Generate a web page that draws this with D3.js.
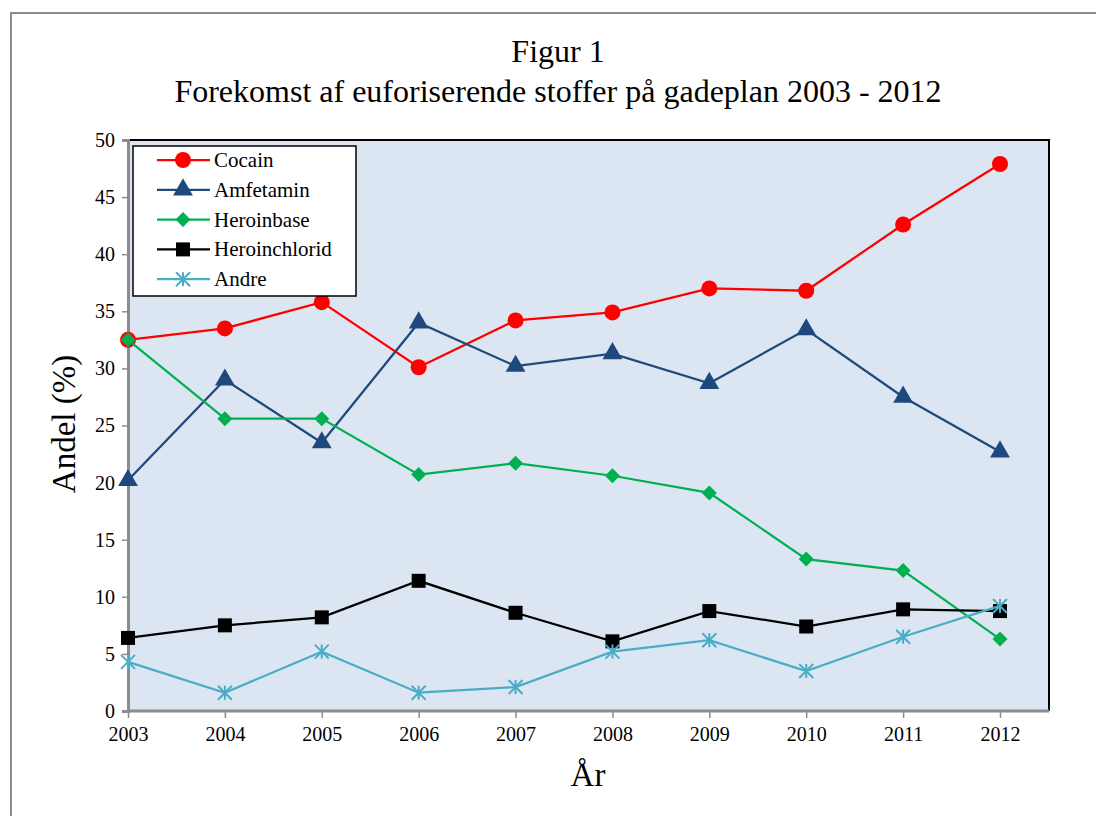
<!DOCTYPE html>
<html>
<head>
<meta charset="utf-8">
<script src="https://cdn.jsdelivr.net/npm/d3@7"></script>
<style>
  body { margin: 0; background: #fff; }
  text { font-family: "Liberation Serif", "Times New Roman", serif; fill: #000; }
</style>
</head>
<body>
<script>
const years = [2003, 2004, 2005, 2006, 2007, 2008, 2009, 2010, 2011, 2012];
const cocain = [32.5, 33.5, 35.8, 30.1, 34.2, 34.9, 37.0, 36.8, 42.6, 47.9];
const amfetamin = [20.2, 29.0, 23.5, 34.0, 30.2, 31.3, 28.7, 33.4, 27.5, 22.7];
const heroinbase = [32.5, 25.6, 25.6, 20.7, 21.7, 20.6, 19.1, 13.3, 12.3, 6.3];
const heroinchlorid = [6.4, 7.5, 8.2, 11.4, 8.6, 6.1, 8.75, 7.4, 8.9, 8.75];
const andre = [4.3, 1.6, 5.2, 1.6, 2.1, 5.2, 6.2, 3.5, 6.5, 9.2];
const yTicks = [0, 5, 10, 15, 20, 25, 30, 35, 40, 45, 50];

const SERIES = [
    { name: "Cocain", values: cocain, color: "#ff0000", marker: "circle" },
    { name: "Amfetamin", values: amfetamin, color: "#1f497d", marker: "triangle" },
    { name: "Heroinbase", values: heroinbase, color: "#00b050", marker: "diamond" },
    { name: "Heroinchlorid", values: heroinchlorid, color: "#000000", marker: "square" },
    { name: "Andre", values: andre, color: "#4bacc6", marker: "star" }
];

const WIDTH = 1096;
const HEIGHT = 816;
const PLOT = { left: 128, right: 1049, top: 140, bottom: 711 };

const svg = d3.select("body").append("svg")
    .attr("width", WIDTH)
    .attr("height", HEIGHT);

// Outer chart frame
svg.append("rect")
    .attr("x", 11)
    .attr("y", 13)
    .attr("width", WIDTH + 20)
    .attr("height", HEIGHT + 20)
    .style("fill", "#fff")
    .style("stroke", "#8c8c8c")
    .style("stroke-width", 2);

// Titles
svg.append("text")
    .text("Figur 1")
    .attr("x", 558).attr("y", 62)
    .attr("text-anchor", "middle")
    .style("font-size", "32px");
svg.append("text")
    .text("Forekomst af euforiserende stoffer på gadeplan 2003 - 2012")
    .attr("x", 558).attr("y", 102)
    .attr("text-anchor", "middle")
    .style("font-size", "32px");

// Scales
const x = d3.scalePoint()
    .domain(years)
    .range([PLOT.left, 1000]);
const y = d3.scaleLinear()
    .domain([0, 50])
    .range([PLOT.bottom, PLOT.top]);

// Plot area
svg.append("rect")
    .attr("x", PLOT.left)
    .attr("y", PLOT.top)
    .attr("width", PLOT.right - PLOT.left)
    .attr("height", PLOT.bottom - PLOT.top)
    .style("fill", "#dce6f2");
svg.append("path")
    .attr("d", `M ${PLOT.left} ${PLOT.top} L ${PLOT.right} ${PLOT.top} L ${PLOT.right} ${PLOT.bottom}`)
    .style("fill", "none")
    .style("stroke", "#000")
    .style("stroke-width", 2);

// Y axis
const yAxis = svg.append("g")
    .attr("transform", `translate(${PLOT.left},0)`)
    .call(d3.axisLeft(y).tickValues(yTicks).tickSize(6).tickPadding(7));
yAxis.select(".domain").style("stroke", "#8c8c8c").style("stroke-width", 3);
yAxis.selectAll(".tick line").style("stroke", "#8c8c8c").style("stroke-width", 1.5);
yAxis.selectAll(".tick text").style("font-size", "20px")
    .style("font-family", "Liberation Serif, serif");

// X axis
const xAxis = svg.append("g")
    .attr("transform", `translate(0,${PLOT.bottom})`)
    .call(d3.axisBottom(x).tickSize(7).tickPadding(9).tickFormat(d3.format("d")));
xAxis.select(".domain")
    .attr("d", `M ${PLOT.left} 0 H ${PLOT.right}`)
    .style("stroke", "#8c8c8c").style("stroke-width", 3);
xAxis.selectAll(".tick line").style("stroke", "#8c8c8c").style("stroke-width", 1.5);
xAxis.selectAll(".tick text").style("font-size", "20px")
    .style("font-family", "Liberation Serif, serif");

// Axis labels
svg.append("text")
    .text("År")
    .attr("x", 588).attr("y", 786)
    .attr("text-anchor", "middle")
    .style("font-size", "33px");
svg.append("text")
    .text("Andel (%)")
    .attr("transform", "translate(75,424) rotate(-90)")
    .attr("text-anchor", "middle")
    .style("font-size", "33px");

// Marker drawing
function drawMarker(g, type, color, cx, cy) {
    if (type === "circle") {
        g.append("circle").attr("cx", cx).attr("cy", cy).attr("r", 8).style("fill", color);
    } else if (type === "triangle") {
        g.append("path")
            .attr("d", d3.symbol().type(d3.symbolTriangle).size(170)())
            .attr("transform", `translate(${cx},${cy})`)
            .style("fill", color);
    } else if (type === "diamond") {
        g.append("path")
            .attr("d", "M 0 -7.5 L 7.5 0 L 0 7.5 L -7.5 0 Z")
            .attr("transform", `translate(${cx},${cy})`)
            .style("fill", color);
    } else if (type === "square") {
        g.append("rect").attr("x", cx - 7).attr("y", cy - 7)
            .attr("width", 14).attr("height", 14).style("fill", color);
    } else if (type === "star") {
        const s = 7;
        g.append("path")
            .attr("d", `M ${-s} ${-s} L ${s} ${s} M ${-s} ${s} L ${s} ${-s} M 0 ${-s} L 0 ${s}`)
            .attr("transform", `translate(${cx},${cy})`)
            .style("stroke", color)
            .style("stroke-width", 2)
            .style("fill", "none");
    }
}

// Lines and markers
const line = d3.line()
    .x((d, i) => x(years[i]))
    .y(d => y(d));

SERIES.forEach(function(s) {
    const g = svg.append("g");
    g.append("path")
        .attr("d", line(s.values))
        .style("fill", "none")
        .style("stroke", s.color)
        .style("stroke-width", 2.25);
    s.values.forEach(function(v, i) {
        drawMarker(g, s.marker, s.color, x(years[i]), y(v));
    });
});

// Legend
const legend = svg.append("g");
legend.append("rect")
    .attr("x", 133).attr("y", 146)
    .attr("width", 223).attr("height", 150)
    .style("fill", "#fff")
    .style("stroke", "#000")
    .style("stroke-width", 1.5);
SERIES.forEach(function(s, i) {
    const ly = 160 + i * 29.8;
    legend.append("line")
        .attr("x1", 157).attr("x2", 210)
        .attr("y1", ly).attr("y2", ly)
        .style("stroke", s.color)
        .style("stroke-width", 2.25);
    drawMarker(legend, s.marker, s.color, 183, ly);
    legend.append("text")
        .text(s.name)
        .attr("x", 214).attr("y", ly + 7)
        .style("font-size", "21px");
});
</script>
</body>
</html>
